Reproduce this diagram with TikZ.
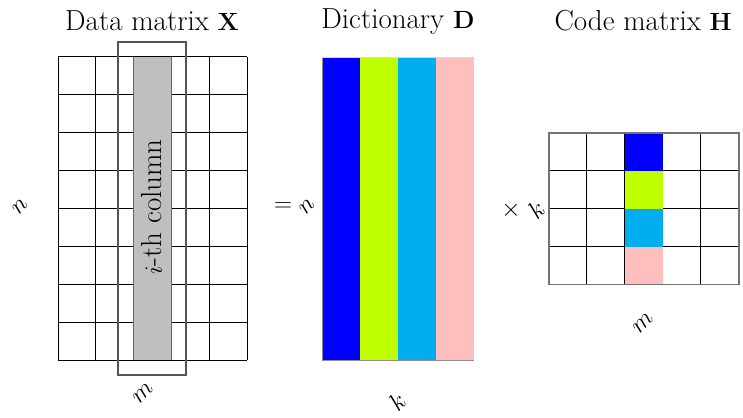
\documentclass[tikz,border=0pt]{standalone}
\usepackage{amsmath}
\definecolor{colblue}{RGB}{0,0,255}
\definecolor{collime}{RGB}{191,255,0}
\definecolor{colcyan}{RGB}{0,174,239}
\definecolor{colpink}{RGB}{255,191,191}
\definecolor{colgray}{RGB}{191,191,191}
\definecolor{framegray}{RGB}{85,85,85}
\tikzset{
  gridline/.style={black, line width=1pt},
  title/.style={font=\fontsize{29}{34}\selectfont, anchor=base},
  dimlabel/.style={font=\fontsize{30}{34}\selectfont, rotate=45, inner sep=0pt},
  opsym/.style={font=\fontsize{29}{34}\selectfont, inner sep=0pt},
}
\begin{document}
\begin{tikzpicture}[x=1pt,y=-1pt]
\useasboundingbox (0,0) rectangle (743,417);
% ---- Data matrix X ----
\foreach \i in {0,...,8} \draw[gridline] (58,57+37.875*\i) -- (247,57+37.875*\i);
\foreach \j in {0,...,5} \draw[gridline] (58+37.8*\j,57) -- (58+37.8*\j,360);
\fill[colgray] (133,57) rectangle (171,360);
\draw[black!60, line width=0.6pt] (133,57) -- (133,360) (171,57) -- (171,360);
\draw[framegray, line width=1.1pt] (118,42) rectangle (186,375);
\node[rotate=90, font=\fontsize{29}{34}\selectfont] (col) at (152,207) {$i$-th column};
\node[title] (tx) at (152,31) {Data matrix $\mathbf{X}$};
\node[dimlabel] (nx) at (20,207) {$n$};
\node[dimlabel] (mx) at (143,393) {$m$};
% ---- Dictionary D ----
\fill[colblue] (322,57) rectangle (360,360);
\fill[collime] (360,57) rectangle (398,360);
\fill[colcyan] (398,57) rectangle (436,360);
\fill[colpink] (436,57) rectangle (474,360);
\draw[black!45, line width=0.6pt] (322,57) -- (322,360) -- (474,360);
\draw[black!15, line width=0.6pt] (322,57) -- (474,57);
\node[title] (td) at (398,29) {Dictionary $\mathbf{D}$};
\node[opsym] (eq) at (283,207) {$=$};
\node[dimlabel] (nd) at (307,207) {$n$};
\node[dimlabel] (kd) at (397,402) {$k$};
% ---- Code matrix H ----
\foreach \i in {0,...,4} \draw[gridline] (549,133+37.9*\i) -- (739,133+37.9*\i);
\foreach \j in {0,...,5} \draw[gridline] (549+37.9*\j,133) -- (549+37.9*\j,284.6);
\fill[colblue] (625,133) rectangle (663,171);
\fill[collime] (625,171) rectangle (663,209);
\fill[colcyan] (625,209) rectangle (663,247);
\fill[colpink] (625,247) rectangle (663,284.6);
\draw[black!55, line width=1.3pt] (549,133) rectangle (739,284.6);
\node[title] (th) at (643,31) {Code matrix $\mathbf{H}$};
\node[opsym] (times) at (511,210) {$\times$};
\node[dimlabel] (kh) at (536,210) {$k$};
\node[dimlabel] (mh) at (643,323) {$m$};
\end{tikzpicture}
\end{document}
